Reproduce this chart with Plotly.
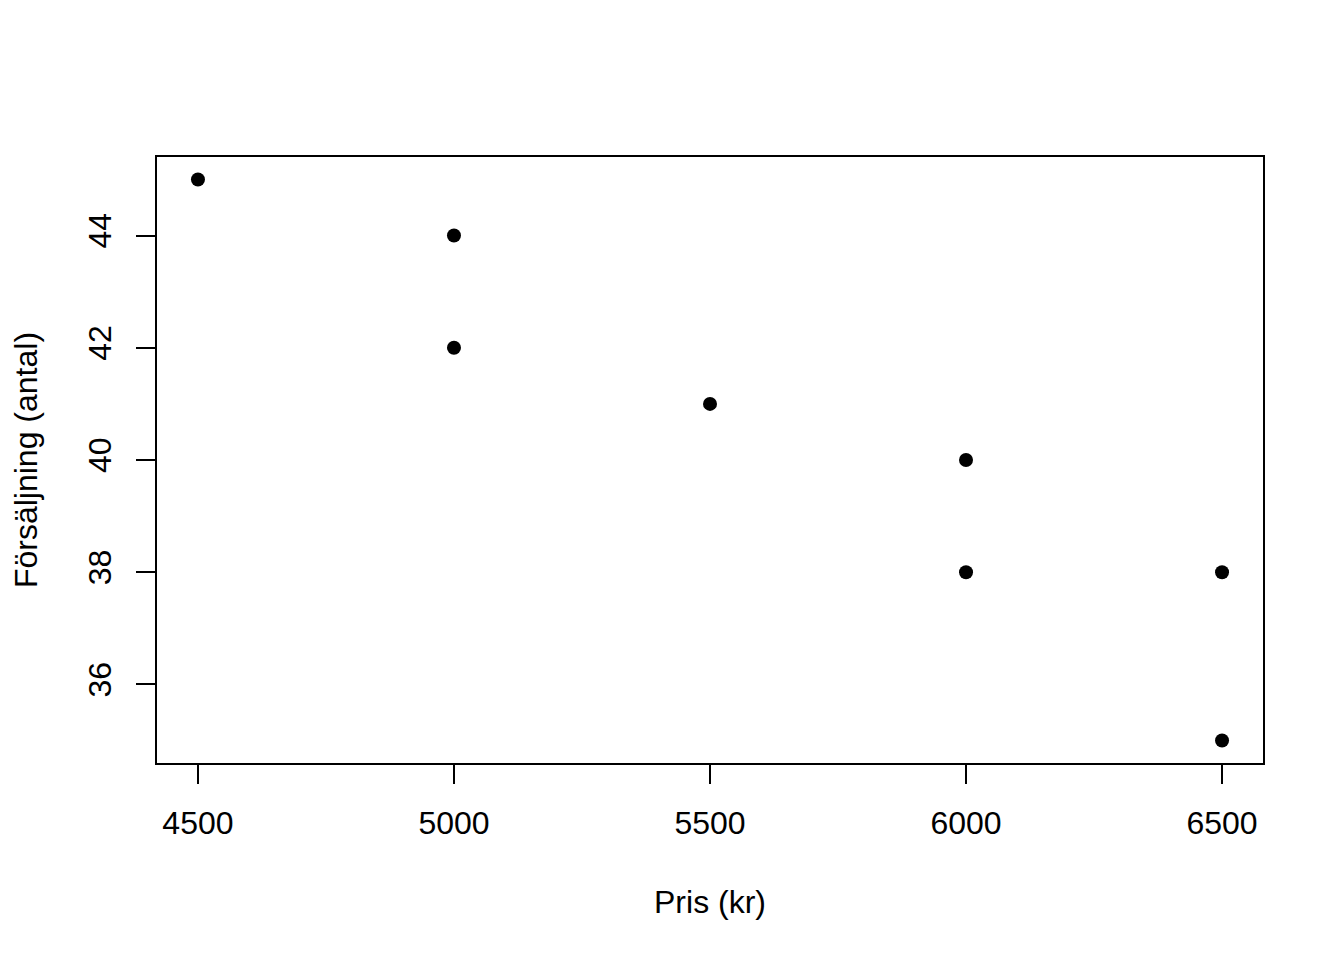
import plotly.graph_objects as go

# Pris (kr) och försäljning (antal)
pris = [4500, 5000, 5000, 5500, 6000, 6000, 6500, 6500]
antal = [45, 44, 42, 41, 40, 38, 38, 35]

x_ticks = [4500, 5000, 5500, 6000, 6500]
y_ticks = [36, 38, 40, 42, 44]

font = dict(family="Liberation Sans, Arial, sans-serif", size=32, color="black")

fig = go.Figure()
fig.add_trace(go.Scatter(
    x=pris, y=antal,
    mode="markers",
    marker=dict(size=14, color="black"),
    hoverinfo="x+y",
))

axis_common = dict(
    showgrid=False, zeroline=False,
    showline=True, mirror=True, linecolor="black", linewidth=1.5,
    ticks="outside", ticklen=19, tickwidth=1.5, tickcolor="black",
    tickfont=font, ticklabelstandoff=12,
)

# the page body adds an 8px margin, so margins are shifted to compensate
fig.update_layout(
    width=1344, height=960,
    margin=dict(l=149, r=89, t=149, b=205),
    paper_bgcolor="white", plot_bgcolor="white",
    showlegend=False,
    font=font,
    xaxis=dict(
        range=[4420, 6580], tickvals=x_ticks,
        title=dict(text="Pris (kr)", font=font, standoff=50),
        **axis_common,
    ),
    yaxis=dict(
        range=[34.6, 45.4], tickvals=y_ticks, tickangle=-90,
        title=dict(text="Försäljning (antal)", font=font, standoff=40),
        **axis_common,
    ),
)

fig.write_html("out.html")
